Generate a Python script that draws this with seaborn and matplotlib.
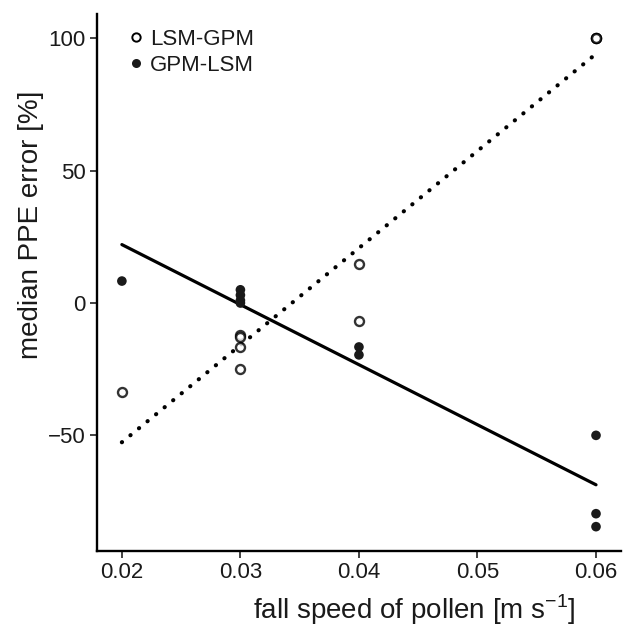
import matplotlib
matplotlib.use("Agg")
import matplotlib.pyplot as plt
import seaborn as sns
import pandas as pd
from matplotlib.lines import Line2D

# Data
lsm_gpm_x = [0.02, 0.03, 0.03, 0.03, 0.03, 0.04, 0.04, 0.06, 0.06, 0.06]
lsm_gpm_y = [-33.6, -12.0, -13.0, -16.6, -25.0, 14.7, -6.8, 100.0, 100.0, 100.0]
gpm_lsm_x = [0.02, 0.03, 0.03, 0.03, 0.03, 0.04, 0.04, 0.06, 0.06, 0.06]
gpm_lsm_y = [8.3, 5.0, 3.0, 1.0, 0.0, -16.6, -19.6, -50.0, -79.6, -84.5]
series_labels = ["LSM-GPM", "GPM-LSM"]
x_ticks = [0.02, 0.03, 0.04, 0.05, 0.06]
x_tick_labels = ["0.02", "0.03", "0.04", "0.05", "0.06"]
y_ticks = [-50, 0, 50, 100]
y_tick_labels = ["\u221250", "0", "50", "100"]

df_open = pd.DataFrame({"x": lsm_gpm_x, "y": lsm_gpm_y})
df_fill = pd.DataFrame({"x": gpm_lsm_x, "y": gpm_lsm_y})

sns.set_theme(style="ticks")
plt.rcParams["font.family"] = ["Liberation Sans", "DejaVu Sans"]

fig = plt.figure(figsize=(6.31, 6.26), dpi=100)
ax = fig.add_axes([0.1537, 0.1198, 0.984 - 0.1537, 0.9776 - 0.1198])

sns.regplot(data=df_open, x="x", y="y", ax=ax, ci=None, truncate=True,
            scatter_kws=dict(s=42, facecolor="white", edgecolor="black",
                             linewidths=1.7, zorder=3),
            line_kws=dict(color="black", lw=3.0, linestyle=(0, (0.05, 2.6)),
                          dash_capstyle="round", zorder=2))
sns.regplot(data=df_fill, x="x", y="y", ax=ax, ci=None, truncate=True,
            scatter_kws=dict(s=48, color="#1a1a1a", edgecolor="none",
                             alpha=1, zorder=3),
            line_kws=dict(color="black", lw=2.3, zorder=2))

ax.set_xlim(0.0179, 0.0621)
ax.set_ylim(-93.7, 109.2)
ax.set_xticks(x_ticks)
ax.set_xticklabels(x_tick_labels)
ax.set_yticks(y_ticks)
ax.set_yticklabels(y_tick_labels)
ax.tick_params(axis="both", direction="out", length=5, width=1.3,
               color="#333333", labelsize=16, labelcolor="#1a1a1a", pad=3)
for side in ["top", "right"]:
    ax.spines[side].set_visible(False)
for side in ["left", "bottom"]:
    ax.spines[side].set_linewidth(1.7)
    ax.spines[side].set_color("black")

ax.set_xlabel("fall speed of pollen [m s$^{\\mathregular{-1}}$]", fontsize=20,
              color="#1a1a1a", ha="right", va="baseline")
ax.xaxis.set_label_coords(0.914, -0.127, transform=ax.transAxes)
ax.set_ylabel("median PPE error [%]", fontsize=20, color="#1a1a1a")
ax.yaxis.set_label_coords(-0.102, 0.607, transform=ax.transAxes)

handles = [
    Line2D([], [], marker="o", linestyle="none", markersize=6,
           markerfacecolor="white", markeredgecolor="black", markeredgewidth=1.4),
    Line2D([], [], marker="o", linestyle="none", markersize=6.5,
           markerfacecolor="#1a1a1a", markeredgecolor="none"),
]
ax.legend(handles, series_labels, loc="upper left", bbox_to_anchor=(0.018, 1.009),
          frameon=False, fontsize=16, handletextpad=0.15, handlelength=0.9,
          labelspacing=0.2, labelcolor="#1a1a1a")

fig.savefig("out.png", dpi=100)
